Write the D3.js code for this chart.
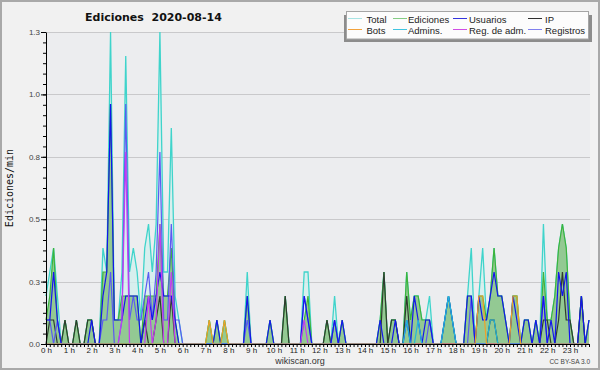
<!DOCTYPE html>
<html>
<head>
<meta charset="utf-8">
<script src="https://cdn.jsdelivr.net/npm/d3@7"></script>
<style>
  body { margin: 0; background: #f1f1f1; }
  svg { display: block; }
</style>
</head>
<body>
<svg id="chart" width="600" height="370"></svg>
<script>
// ediciones por minuto, un punto cada 10 min (0:00 -> 23:50), 6 valores por hora
var total = [
  0.2,0.3,0.4,0.2,0,0.1,   0,0,0.1,0,0,0.1,
  0.1,0,0,0.4,0.3,1.3,     0.1,0.1,0.3,1.2,0.3,0.4,
  0.3,0.1,0.4,0.5,0.3,0.5, 1.3,0.3,0.3,0.9,0.2,0.1,
  0,0,0,0,0,0,             0,0.1,0,0.1,0,0.1,
  0,0,0,0,0,0.3,           0,0,0,0,0,0.1,
  0,0,0,0.2,0,0,           0,0,0.3,0.3,0,0,
  0,0,0.1,0,0.2,0,         0.1,0,0,0,0,0,
  0,0,0,0,0.1,0.3,         0,0.1,0.1,0,0,0.3,
  0.1,0.2,0.2,0.1,0.1,0.2, 0,0,0,0.1,0.2,0.1,
  0,0,0,0.2,0.4,0,         0.2,0.4,0.1,0.2,0.4,0.2,
  0.2,0.1,0,0.2,0.2,0,     0.1,0.1,0,0.1,0,0.5,
  0.1,0.1,0.2,0.4,0.5,0.4, 0.1,0,0,0.2,0,0.1
];
var ediciones = [
  0.1,0.2,0.4,0.1,0,0.1,   0,0,0.1,0,0,0.1,
  0.1,0,0,0.3,0.3,1.0,     0.1,0.1,0.2,0.2,0.2,0.2,
  0.2,0,0.2,0.2,0.2,0.2,   0.5,0.2,0.2,0.4,0.1,0,
  0,0,0,0,0,0,             0,0.1,0,0.1,0,0.1,
  0,0,0,0,0,0.2,           0,0,0,0,0,0.1,
  0,0,0,0.2,0,0,           0,0,0.1,0.2,0,0,
  0,0,0.1,0,0.1,0,         0.1,0,0,0,0,0,
  0,0,0,0,0.1,0.3,         0,0.1,0.1,0,0,0.3,
  0.1,0.2,0.2,0.1,0.1,0.1, 0,0,0,0.1,0.2,0.1,
  0,0,0,0.2,0.2,0,         0.2,0.2,0.1,0.2,0.4,0.2,
  0.2,0.1,0,0.2,0.2,0,     0.1,0.1,0,0.1,0,0.3,
  0.1,0.1,0.2,0.4,0.5,0.4, 0.1,0,0,0.2,0,0.1
];
var usuarios = [
  0.1,0.1,0.3,0.1,0,0,     0,0,0,0,0,0,
  0.1,0,0,0.2,0.3,1.0,     0.1,0.1,0.1,0.2,0.2,0.2,
  0.2,0,0.1,0.2,0.1,0.2,   0.3,0.2,0.2,0.2,0.1,0,
  0,0,0,0,0,0,             0,0,0,0.1,0,0,
  0,0,0,0,0,0.2,           0,0,0,0,0,0.1,
  0,0,0,0,0,0,             0,0,0.2,0.1,0,0,
  0,0,0,0,0.1,0,           0.1,0,0,0,0,0,
  0,0,0,0,0.1,0,           0,0,0.1,0,0,0.1,
  0,0.2,0.1,0,0.1,0.1,     0,0,0,0.1,0.2,0.1,
  0,0,0,0.2,0.2,0,         0.2,0.1,0.1,0.2,0.3,0.2,
  0.2,0.1,0,0.2,0.1,0,     0.1,0.1,0,0.1,0,0.2,
  0,0.1,0,0.3,0.2,0.3,     0,0,0,0.2,0,0.1
];
var ip = [
  0,0.1,0.1,0,0,0.1,       0,0,0.1,0,0,0.1,
  0.1,0,0,0,0,0,           0,0,0,0,0,0,
  0,0,0.1,0,0,0.1,         0.2,0,0,0.2,0,0,
  0,0,0,0,0,0,             0,0,0,0,0,0,
  0,0,0,0,0,0,             0,0,0,0,0,0,
  0,0,0,0.2,0,0,           0,0,0,0,0,0,
  0,0,0.1,0,0,0,           0,0,0,0,0,0,
  0,0,0,0,0,0.3,           0,0.1,0.1,0,0,0.2,
  0,0,0,0,0,0,             0,0,0,0,0,0,
  0,0,0,0,0,0,             0,0,0,0.1,0.1,0,
  0,0,0,0,0,0,             0,0,0,0,0,0.1,
  0.1,0,0,0.1,0.3,0.1,     0.1,0,0,0.2,0,0
];
var bots = [
  0,0,0,0,0,0,             0,0,0,0,0,0,
  0,0,0,0,0,0,             0,0,0,0,0,0,
  0,0,0,0,0,0,             0,0,0,0,0,0,
  0,0,0,0,0,0,             0,0.1,0,0,0,0.1,
  0,0,0,0,0,0,             0,0,0,0,0,0,
  0,0,0,0,0,0,             0,0,0,0,0,0,
  0,0,0,0,0,0,             0,0,0,0,0,0,
  0,0,0,0,0,0,             0,0,0,0,0,0,
  0,0,0,0,0,0,             0,0,0,0,0,0,
  0,0,0,0,0,0,             0.2,0.2,0,0,0,0,
  0,0,0,0.2,0.2,0,         0,0,0,0,0,0,
  0,0,0,0,0,0,             0,0,0,0,0,0
];
var admins = [
  0,0,0,0,0,0,             0,0,0,0,0,0,
  0,0,0,0,0,0,             0,0,0,0,0,0,
  0,0,0,0,0,0,             0,0,0,0,0,0,
  0,0,0,0,0,0,             0,0,0,0,0,0,
  0,0,0,0,0,0,             0,0,0,0,0,0,
  0,0,0,0,0,0,             0,0,0,0,0,0,
  0,0,0,0,0,0,             0,0,0,0,0,0,
  0,0,0,0,0,0,             0,0,0,0,0,0.1,
  0,0,0.1,0,0,0,           0,0,0,0.1,0.2,0.1,
  0,0,0,0,0,0,             0,0,0,0.1,0.1,0,
  0,0,0,0,0,0,             0,0,0,0,0,0,
  0,0,0,0,0,0,             0,0,0,0,0,0
];
var regAdm = [
  0,0,0,0,0,0,             0,0,0,0,0,0,
  0,0,0,0,0,0,             0,0,0.1,0.8,0,0,
  0,0,0,0.2,0,0.1,         0.5,0,0,0.3,0,0,
  0,0,0,0,0,0,             0,0,0,0,0,0,
  0,0,0,0,0,0,             0,0,0,0,0,0,
  0,0,0,0,0,0,             0,0,0.1,0,0,0,
  0,0,0,0,0,0,             0,0,0,0,0,0,
  0,0,0,0,0,0,             0,0,0,0,0,0,
  0,0,0,0,0,0,             0,0,0,0,0,0,
  0,0,0,0,0,0,             0,0,0,0,0,0,
  0,0,0,0,0,0,             0,0,0,0,0,0,
  0,0,0,0,0,0,             0,0,0,0,0,0
];
var registros = [
  0.1,0.1,0,0.1,0,0,       0,0,0,0,0,0,
  0,0,0,0.1,0.1,0.3,       0,0,0.1,1.0,0.1,0.2,
  0.1,0.1,0.2,0.3,0.1,0.3, 0.8,0.1,0.1,0.5,0.1,0.1,
  0,0,0,0,0,0,             0,0,0,0,0,0,
  0,0,0,0,0,0.1,           0,0,0,0,0,0,
  0,0,0,0,0,0,             0,0,0.2,0.1,0,0,
  0,0,0,0,0.1,0,           0,0,0,0,0,0,
  0,0,0,0,0,0,             0,0,0,0,0,0,
  0,0,0,0,0,0.1,           0,0,0,0,0,0,
  0,0,0,0,0.2,0,           0,0,0,0,0,0,
  0,0,0,0,0,0,             0,0,0,0,0,0.2,
  0,0,0,0,0,0,             0,0,0,0,0,0
];

// graduations de l'axe y (0.26 par pas) et etiquettes des heures
var yTicks = [0, 0.26, 0.52, 0.78, 1.04, 1.3];
var hourLabels = d3.range(24).map(h => h + " h");

var legendNames = ["Total", "Ediciones", "Usuarios", "IP", "Bots", "Admins.", "Reg. de adm.", "Registros"];
var legendColors = ["#a8e4e4", "#84cc84", "#3434de", "#303030", "#f2a23c", "#40c4e0", "#d04ce4", "#8080ee"];

var svg = d3.select("#chart");
var W = 600, H = 370;
// marges du graphe (pas "top" : window.top est en lecture seule)
var pLeft = 46, pRight = 589, pTop = 32, pBottom = 344;

var x = d3.scaleLinear().domain([0, total.length - 1]).range([pLeft, pRight]);
var y = d3.scaleLinear().domain([0, 1.3]).range([pBottom, pTop]);

// cadre + fond
svg.append("rect").attr("x", 1).attr("y", 1).attr("width", W - 2).attr("height", H - 2)
  .attr("fill", "#f1f1f1").attr("stroke", "#a9a9a9").attr("stroke-width", 2);
svg.append("rect").attr("x", pLeft).attr("y", pTop).attr("width", pRight - pLeft + 1).attr("height", pBottom - pTop)
  .attr("fill", "#ecedef");

// grille
svg.append("g").selectAll("line").data(yTicks.slice(1)).join("line")
  .attr("x1", pLeft).attr("x2", pRight + 1)
  .attr("y1", d => Math.round(y(d)) + 0.5).attr("y2", d => Math.round(y(d)) + 0.5)
  .attr("stroke", "#c9c9cb").attr("stroke-width", 1);

var line = d3.line().x((d, i) => x(i)).y(d => y(d));
var area = d3.area().x((d, i) => x(i)).y0(y(0)).y1(d => y(d));

// total : surface pale + trait turquoise
svg.append("path").attr("d", area(total)).attr("fill", "#d3efee").attr("fill-opacity", 0.8);
svg.append("path").attr("d", line(total)).attr("fill", "none").attr("stroke", "#3fd4cb").attr("stroke-width", 1.3);

// ediciones : surface verte
svg.append("path").attr("d", area(ediciones)).attr("fill", "#93c993");
svg.append("path").attr("d", line(ediciones)).attr("fill", "none").attr("stroke", "#3cb43c").attr("stroke-width", 1.2);

// autres series (traits)
var series = [
  [ip, "#2f3a2f"],
  [registros, "#5a5af2"],
  [usuarios, "#1414ee"],
  [regAdm, "#c43cf0"],
  [admins, "#22b6dc"],
  [bots, "#f0a028"]
];
series.forEach(s => {
  svg.append("path").attr("d", line(s[0])).attr("fill", "none")
    .attr("stroke", s[1]).attr("stroke-width", 1.2);
});

// axe y
var yAxis = svg.append("g").attr("transform", `translate(${pLeft},0)`)
  .call(d3.axisLeft(y).tickValues(yTicks).tickSize(5).tickPadding(1).tickFormat(d3.format(".1f")).tickSizeOuter(0));
svg.append("g").attr("transform", `translate(${pLeft},0)`)
  .call(d3.axisLeft(y).tickValues(d3.range(0, 31).map(k => k * 1.3 / 30)).tickSize(3).tickFormat("").tickSizeOuter(0))
  .select(".domain").remove();
yAxis.selectAll("text").attr("font-family", "Liberation Sans, sans-serif").attr("font-size", 8).attr("fill", "#444");

// axe x
var xAxis = svg.append("g").attr("transform", `translate(0,${pBottom})`)
  .call(d3.axisBottom(x).tickValues(d3.range(0, total.length)).tickSize(3).tickPadding(0.5).tickSizeOuter(0)
    .tickFormat(i => i % 6 == 0 ? hourLabels[i / 6] : ""));
xAxis.selectAll("text").attr("font-family", "Liberation Sans, sans-serif").attr("font-size", 8).attr("fill", "#222");
svg.selectAll(".domain").attr("stroke", "#000");

// titres
svg.append("text").attr("x", 85).attr("y", 21)
  .attr("font-family", "DejaVu Sans, sans-serif").attr("font-weight", "bold").attr("font-size", 11)
  .attr("fill", "#111").style("white-space", "pre")
  .text("Ediciones  2020-08-14");

svg.append("text").attr("transform", "translate(13,188) rotate(-90)")
  .attr("text-anchor", "middle").attr("font-family", "DejaVu Sans Mono, monospace").attr("font-size", 10)
  .attr("fill", "#111").text("Ediciones/min");

svg.append("text").attr("x", 300).attr("y", 364).attr("text-anchor", "middle")
  .attr("font-family", "Liberation Sans, sans-serif").attr("font-size", 9).attr("fill", "#333")
  .text("wikiscan.org");
svg.append("text").attr("x", 590).attr("y", 364).attr("text-anchor", "end")
  .attr("font-family", "Liberation Sans, sans-serif").attr("font-size", 6.5).attr("fill", "#444")
  .text("CC BY-SA 3.0");

// legende avec ombre
var lg = svg.append("g");
lg.append("rect").attr("x", 344).attr("y", 15).attr("width", 248).attr("height", 27).attr("fill", "#8c8c8c");
lg.append("rect").attr("x", 346.5).attr("y", 11.5).attr("width", 242).attr("height", 27.5)
  .attr("fill", "#fcfcfc").attr("stroke", "#a5a5a5");
var colSw = [348, 393, 453, 528], colTx = [366.5, 408, 469, 545];
legendNames.forEach((name, k) => {
  var c = k % 4, r = Math.floor(k / 4);
  var yy = r == 0 ? 18.5 : 29.5;
  lg.append("line").attr("x1", colSw[c]).attr("x2", colSw[c] + 14).attr("y1", yy).attr("y2", yy)
    .attr("stroke", legendColors[k]).attr("stroke-width", 1);
  lg.append("text").attr("x", colTx[c]).attr("y", yy + 4)
    .attr("font-family", "Liberation Sans, sans-serif").attr("font-size", 9.5).attr("fill", "#222")
    .text(name);
});
</script>
</body>
</html>
